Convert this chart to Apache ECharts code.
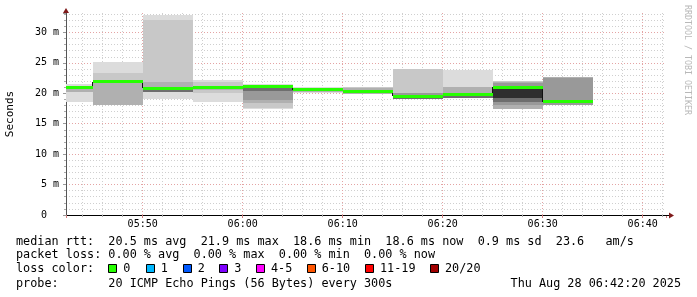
<!DOCTYPE html>
<html><head><meta charset="utf-8">
<script src="https://cdn.jsdelivr.net/npm/echarts@6/dist/echarts.min.js"></script>
<style>html,body{margin:0;padding:0;background:#fff}#c{width:697px;height:297px}</style>
</head><body><div id="c"></div>
<script>
// ---------- data ----------
const axisStart = '05:42:20';
const axisEnd = '06:42:20';
const stepEnds = ['05:45','05:50','05:55','06:00','06:05','06:10','06:15','06:20','06:25','06:30','06:35'];
const medianRtt = [21.0, 21.9, 20.8, 21.0, 21.1, 20.6, 20.3, 19.5, 19.8, 21.0, 18.6];
// smoke bands (outer/light -> inner/dark), [low, high] ms per step, null = none
const smoke1 = [[18.5,21.45],[18.0,25.1],[19.0,32.9],[18.5,22.2],[17.4,21.55],[20.0,21.0],null,[19.0,24.05],[19.2,23.75],null,null];
const smoke2 = [null,[18.0,23.3],[20.25,32.0],[20.0,21.9],[17.6,21.3],null,[19.85,21.0],[19.05,23.95],null,[17.4,22.1],[18.0,22.75]];
const smoke3 = [[20.25,21.2],[18.0,21.8],[20.25,21.9],[20.6,21.2],[18.4,21.2],[20.2,20.9],[19.9,20.9],null,[19.2,21.1],[17.4,21.9],[18.0,22.65]];
const smoke4 = [null,null,null,null,[18.9,21.15],null,null,[19.05,20.0],[19.2,19.9],[18.0,21.7],[18.0,22.55]];
const smoke5 = [null,null,[20.25,20.6],null,[20.45,21.1],null,null,[19.05,19.45],[19.2,19.6],[18.65,21.1],null];
const smoke6 = [null,null,null,null,null,null,null,null,null,[19.2,21.0],null];
const yMax = 33.2;
const medianStats = ['20.5 ms avg','21.9 ms max','18.6 ms min','18.6 ms now','0.9 ms sd','23.6   am/s'];
const lossStats = ['0.00 % avg','0.00 % max','0.00 % min','0.00 % now'];
const lossColorLabels = ['0','1','2','3','4-5','6-10','11-19','20/20'];
const probeText = '20 ICMP Echo Pings (56 Bytes) every 300s';
const dateLabel = 'Thu Aug 28 06:42:20 2025';

// ---------- styles ----------
const palette = ['#dcdcdc','#c8c8c8','#b0b0b0','#999999','#6e6e6e','#2e2e2e'];
const lossPalette = ['#26ff00','#00b8ff','#0059ff','#7e00ff','#ff00ff','#ff5500','#ff0000','#a10000'];
const MONO = '"DejaVu Sans Mono", monospace';

const toMin = s => { const p = s.split(':').map(Number); return p[0]*60 + p[1] + (p[2]||0)/60; };
const xMin = toMin(axisStart), xMax = toMin(axisEnd);
const STEP = 5;
const fmtTime = v => { const h = Math.floor(v/60), m = Math.round(v - h*60); return String(h).padStart(2,'0') + ':' + String(m).padStart(2,'0'); };

const chart = echarts.init(document.getElementById('c'), null, {renderer:'canvas'});

function clipRect(params, x0, y0, x1, y1) {
  const cs = params.coordSys;
  return echarts.graphic.clipRectByRect(
    {x: Math.round(x0), y: Math.round(y0), width: Math.round(x1) - Math.round(x0), height: Math.round(y1) - Math.round(y0)},
    {x: cs.x, y: cs.y, width: cs.width, height: cs.height});
}

const bands = [smoke1, smoke2, smoke3, smoke4, smoke5, smoke6];
const series = bands.map((b, k) => ({
  type: 'custom', silent: true, animation: false, z: 2 + k,
  encode: {x: [0, 1], y: [2, 3]},
  data: b.map((v, i) => v ? [toMin(stepEnds[i]) - STEP, toMin(stepEnds[i]), v[0], v[1]] : null).filter(Boolean),
  renderItem: (params, api) => {
    const a = api.coord([api.value(0), api.value(3)]);
    const c = api.coord([api.value(1), api.value(2)]);
    const r = clipRect(params, a[0], a[1], c[0], c[1]);
    if (!r) return null;
    return {type: 'rect', shape: r, style: {fill: palette[k]}};
  }
}));

// dark step connectors
series.push({
  type: 'custom', silent: true, animation: false, z: 10,
  encode: {x: 0, y: [1, 2]},
  data: medianRtt.map((m, i) => [toMin(stepEnds[i]) - STEP, i > 0 ? medianRtt[i-1] : m, m]).slice(1),
  renderItem: (params, api) => {
    const a = api.coord([api.value(0), api.value(1)]);
    const b = api.coord([api.value(0), api.value(2)]);
    const x = Math.round(a[0]) - 0.5;
    return {type: 'line', shape: {x1: x, y1: Math.round(a[1]), x2: x, y2: Math.round(b[1])}, style: {stroke: '#111', lineWidth: 1}};
  }
});
// median (loss colour 0)
series.push({
  type: 'custom', silent: true, animation: false, z: 11,
  encode: {x: [0, 1], y: 2},
  data: medianRtt.map((m, i) => [toMin(stepEnds[i]) - STEP, toMin(stepEnds[i]), m]),
  renderItem: (params, api) => {
    const a = api.coord([api.value(0), api.value(2)]);
    const c = api.coord([api.value(1), api.value(2)]);
    const r = clipRect(params, a[0], a[1] - 1.5, c[0], a[1] + 1.5);
    if (!r) return null;
    return {type: 'rect', shape: r, style: {fill: lossPalette[0]}};
  }
});

const gridCol = '#e4a4a4', minorCol = '#cfcfcf';
chart.setOption({
  animation: false,
  backgroundColor: '#ffffff',
  grid: {left: 66, right: 31, top: 13, bottom: 82},
  xAxis: {
    type: 'value', min: xMin, max: xMax, splitNumber: 6,
    axisLine: {lineStyle: {color: '#000', width: 1}},
    axisTick: {show: true, length: 3, lineStyle: {color: '#d08080'}},
    minorTick: {show: true, splitNumber: 5, length: 2, lineStyle: {color: '#aaaaaa'}},
    axisLabel: {formatter: fmtTime, showMinLabel: false, showMaxLabel: false, fontFamily: MONO, fontSize: 10, color: '#000', margin: 4},
    splitLine: {show: true, showMinLine: false, showMaxLine: false, lineStyle: {color: gridCol, type: [1, 2]}},
    minorSplitLine: {show: true, lineStyle: {color: minorCol, type: [1, 2]}}
  },
  yAxis: {
    type: 'value', min: 0, max: yMax, interval: 5,
    axisLine: {show: true, lineStyle: {color: '#555', width: 1}},
    axisTick: {show: true, length: 3, lineStyle: {color: '#999'}},
    minorTick: {show: true, splitNumber: 5, length: 2, lineStyle: {color: '#aaaaaa'}},
    axisLabel: {formatter: v => v === 0 ? '0  ' : v + ' m', showMaxLabel: false, fontFamily: MONO, fontSize: 10, color: '#000', margin: 7},
    splitLine: {show: true, showMinLine: false, showMaxLine: false, lineStyle: {color: gridCol, type: [1, 2]}},
    minorSplitLine: {show: true, lineStyle: {color: minorCol, type: [1, 2]}}
  },
  series
});

// ---------- decorations & texts ----------
const tlPx = chart.convertToPixel({gridIndex: 0}, [xMin, yMax]);
const brPx = chart.convertToPixel({gridIndex: 0}, [xMax, 0]);
const axX = Math.round(tlPx[0]), topY = Math.round(tlPx[1]), botY = Math.round(brPx[1]), rightX = Math.round(brPx[0]);
const arrowCol = '#7f1a1a';
const gfx = [];
gfx.push({type: 'polygon', shape: {points: [[axX - 3, topY], [axX + 3, topY], [axX, topY - 5]]}, style: {fill: arrowCol}, z: 20});
gfx.push({type: 'line', shape: {x1: rightX, y1: botY + 0.5, x2: rightX + 3, y2: botY + 0.5}, style: {stroke: '#000', lineWidth: 1}, z: 20});
gfx.push({type: 'polygon', shape: {points: [[rightX + 3, botY - 2.5], [rightX + 3, botY + 3.5], [rightX + 8, botY + 0.5]]}, style: {fill: arrowCol}, z: 20});

const FONT = '11.8px ' + MONO;
const txt = (x, y, s, extra) => ({type: 'text', x, y, silent: true, z: 30,
  style: Object.assign({text: s, font: FONT, fill: '#000', verticalAlign: 'middle', align: 'left'}, extra || {})});

gfx.push(Object.assign(txt(10.5, 114, 'Seconds', {align: 'center', font: '11px ' + MONO}), {rotation: Math.PI / 2}));
gfx.push(Object.assign(txt(687, 60, 'RRDTOOL / TOBI OETIKER', {align: 'center', font: '8.3px ' + MONO, fill: '#b8b8b8'}), {rotation: -Math.PI / 2}));

gfx.push(txt(16, 241.5, 'median rtt:  ' + medianStats.join('  ')));
gfx.push(txt(16, 255.3, 'packet loss: ' + lossStats.join('  ')));
gfx.push(txt(16, 268.8, 'loss color:'));
const boxX = [108.3, 145.7, 182.7, 219.3, 256, 306.7, 365, 430];
lossColorLabels.forEach((s, i) => {
  gfx.push({type: 'rect', shape: {x: Math.round(boxX[i]) + 0.5, y: 264.5, width: 8, height: 8}, style: {fill: lossPalette[i], stroke: '#000', lineWidth: 1}, z: 30});
  gfx.push(txt(boxX[i] + 15, 268.8, s));
});
gfx.push(txt(16, 283.5, 'probe:       ' + probeText));
gfx.push(txt(681, 283.5, dateLabel, {align: 'right'}));

chart.setOption({graphic: gfx});
</script>
</body></html>
